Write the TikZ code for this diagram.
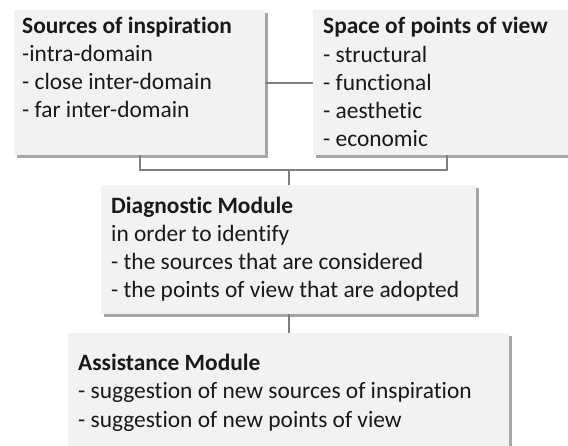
\documentclass[tikz,border=0pt]{standalone}
\usepackage{fontspec}
\setmainfont{Carlito}[Ligatures=NoCommon]
\usetikzlibrary{shadows,calc}
\definecolor{boxfill}{HTML}{F2F2F2}
\definecolor{linecol}{HTML}{7F7F7F}
\begin{document}
\begin{tikzpicture}[x=1pt,y=1pt,
  box/.style={fill=boxfill, draw=none, inner sep=0pt, anchor=north west,
    drop shadow={shadow xshift=2.5pt, shadow yshift=-2.5pt, fill=black, opacity=0.35}},
  txt/.style={inner sep=0pt, anchor=base west, align=left, text=black!90,
    font=\fontsize{23.4}{28.3}\selectfont},
  conn/.style={draw=linecol, line width=2pt}]
\useasboundingbox (0,0) rectangle (568,445);
\clip (0,0) rectangle (568,445);
\node[box, minimum width=251pt, minimum height=145pt] (src) at (14,435) {};
\node[box, minimum width=268pt, minimum height=145pt] (pov) at (313,435) {};
\node[box, minimum width=375pt, minimum height=129pt] (diag) at (101,260) {};
\node[box, minimum width=441pt, minimum height=125pt] (assist) at (68,112) {};
\coordinate (j) at ($(diag.north)+(0,15)$);
\draw[conn] (src.east) -- (pov.west);
\draw[conn] (src.south) |- (j) -| (pov.south);
\draw[conn] (j) -- (diag.north);
\draw[conn] (diag.south) -- (assist.north);
\node[txt] (srctxt) at (22,327) {\textbf{Sources of inspiration}\\-intra-domain\\- close inter-domain\\- far inter-domain};
\node[txt] (povtxt) at (323,298) {\textbf{Space of points of view}\\- structural\\- functional\\- aesthetic\\- economic};
\node[txt] (diagtxt) at (111,147) {\textbf{Diagnostic Module}\\in order to identify\\- the sources that are considered\\- the points of view that are adopted};
\node[txt] (assisttxt) at (78,18) {\textbf{Assistance Module}\\- suggestion of new sources of inspiration\\- suggestion of new points of view};
\end{tikzpicture}
\end{document}
